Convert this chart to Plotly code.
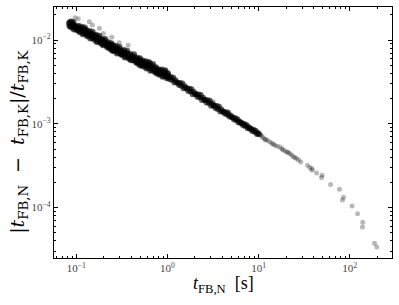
import plotly.graph_objects as go

# ---- data (t_FB,N in s, relative deviation) ----
band_t = [
    0.083, 0.084, 0.085, 0.086, 0.087, 0.088, 0.089, 0.090, 0.091, 0.092, 0.093, 0.094, 0.095, 0.097, 0.099,
    0.100, 0.102, 0.103, 0.105, 0.106, 0.108, 0.109, 0.111, 0.112, 0.114, 0.115, 0.117, 0.118, 0.120, 0.121, 0.123, 0.124, 0.126,
    0.127, 0.129, 0.131, 0.133, 0.134, 0.136, 0.138, 0.140, 0.142, 0.144, 0.146, 0.148, 0.150, 0.151, 0.153, 0.155, 0.157, 0.158,
    0.160, 0.162, 0.165, 0.167, 0.169, 0.172, 0.174, 0.176, 0.179, 0.181, 0.184, 0.186, 0.189, 0.191, 0.194, 0.196, 0.198, 0.200,
    0.202, 0.205, 0.208, 0.211, 0.213, 0.216, 0.219, 0.222, 0.225, 0.228, 0.231, 0.234, 0.237, 0.240, 0.242, 0.245, 0.248, 0.250,
    0.253, 0.257, 0.261, 0.264, 0.268, 0.272, 0.275, 0.279, 0.283, 0.287, 0.291, 0.295, 0.299, 0.302, 0.306, 0.310, 0.313, 0.316,
    0.320, 0.325, 0.329, 0.334, 0.339, 0.343, 0.348, 0.353, 0.357, 0.362, 0.367, 0.372, 0.377, 0.382, 0.387, 0.392, 0.396, 0.400,
    0.406, 0.412, 0.418, 0.424, 0.430, 0.436, 0.442, 0.448, 0.454, 0.460, 0.466, 0.472, 0.478, 0.484, 0.490, 0.495, 0.500, 0.503,
    0.508, 0.514, 0.521, 0.528, 0.535, 0.542, 0.549, 0.556, 0.563, 0.571, 0.578, 0.586, 0.593, 0.601, 0.609, 0.617, 0.624, 0.632,
    0.640, 0.649, 0.658, 0.667, 0.676, 0.685, 0.694, 0.703, 0.712, 0.722, 0.731, 0.741, 0.750, 0.760, 0.770, 0.780, 0.790, 0.800,
    0.811, 0.822, 0.833, 0.845, 0.856, 0.868, 0.880, 0.892, 0.904, 0.916, 0.928, 0.941, 0.954, 0.967, 0.980, 0.993, 1.006, 1.019,
]
band_dev = [
    0.0159, 0.01465, 0.01633, 0.01497, 0.01669, 0.01412, 0.01555, 0.01442, 0.01589, 0.01474, 0.01641, 0.01341, 0.01511, 0.01359, 0.01437,
    0.0142, 0.01306, 0.01455, 0.01323, 0.01480, 0.01246, 0.01376, 0.01270, 0.01398, 0.01293, 0.01442, 0.01175, 0.01325, 0.01199, 0.01279, 0.01342, 0.01414, 0.01206,
    0.01186, 0.01318, 0.01111, 0.01219, 0.01133, 0.01244, 0.01152, 0.01281, 0.01042, 0.01173, 0.01063, 0.01131, 0.01188, 0.01253, 0.01071, 0.01088, 0.01007, 0.01124,
    0.01128, 0.01045, 0.01159, 0.00947, 0.01066, 0.00962, 0.01024, 0.01078, 0.01129, 0.00966, 0.00979, 0.00907, 0.01008, 0.00924, 0.01028, 0.00869, 0.00958, 0.00888,
    0.00936, 0.00983, 0.01031, 0.00880, 0.00895, 0.00829, 0.00921, 0.00843, 0.00939, 0.00793, 0.00872, 0.00808, 0.00888, 0.00824, 0.00919, 0.00751, 0.00845, 0.00767,
    0.00875, 0.00737, 0.00809, 0.00751, 0.00825, 0.00764, 0.00851, 0.00693, 0.00780, 0.00705, 0.00750, 0.00788, 0.00827, 0.00708, 0.00719, 0.00666, 0.00743, 0.00683,
    0.00670, 0.00737, 0.00683, 0.00760, 0.00620, 0.00699, 0.00632, 0.00672, 0.00708, 0.00743, 0.00635, 0.00645, 0.00597, 0.00666, 0.00610, 0.00680, 0.00575, 0.00633,
    0.00635, 0.00575, 0.00611, 0.00643, 0.00675, 0.00576, 0.00586, 0.00542, 0.00604, 0.00554, 0.00617, 0.00521, 0.00574, 0.00532, 0.00586, 0.00544, 0.00607, 0.00497,
    0.00542, 0.00502, 0.00560, 0.00513, 0.00571, 0.00483, 0.00531, 0.00493, 0.00542, 0.00502, 0.00560, 0.00457, 0.00514, 0.00466, 0.00496, 0.00521, 0.00548, 0.00469,
    0.00529, 0.00431, 0.00485, 0.00440, 0.00468, 0.00492, 0.00518, 0.00442, 0.00449, 0.00416, 0.00464, 0.00424, 0.00473, 0.00400, 0.00440, 0.00408, 0.00449, 0.00416,
    0.00386, 0.00424, 0.00393, 0.00432, 0.00401, 0.00446, 0.00364, 0.00410, 0.00371, 0.00395, 0.00415, 0.00436, 0.00372, 0.00378, 0.00351, 0.00391, 0.00357, 0.00398,
]

mid_t = [
    1.03, 1.06, 1.09, 1.12, 1.16, 1.19, 1.22, 1.26, 1.30, 1.34, 1.38, 1.42, 1.46, 1.50, 1.55, 1.59,
    1.64, 1.69, 1.74, 1.79, 1.84, 1.89, 1.95, 2.01, 2.07, 2.13, 2.19, 2.25, 2.32, 2.39, 2.46, 2.53,
    2.60, 2.68, 2.76, 2.84, 2.92, 3.01, 3.10, 3.19, 3.28, 3.38, 3.48, 3.58, 3.68, 3.79, 3.90, 4.02,
    4.14, 4.26, 4.38, 4.51, 4.64, 4.78, 4.92, 5.06, 5.21, 5.36, 5.52, 5.68, 5.85, 6.02, 6.20, 6.38,
    6.57, 6.76, 6.96, 7.16, 7.37, 7.59, 7.81, 8.04, 8.28, 8.52, 8.77, 9.03, 9.29, 9.57, 9.85, 10.1,
]
mid_dev = [
    0.003640, 0.003407, 0.003623, 0.003357, 0.003551, 0.003110, 0.003313, 0.003132, 0.003100, 0.002899, 0.003079, 0.002850, 0.003031, 0.002652, 0.002809, 0.002668,
    0.002641, 0.002470, 0.002624, 0.002429, 0.002583, 0.002260, 0.002397, 0.002270, 0.002249, 0.002106, 0.002239, 0.002074, 0.002202, 0.001923, 0.002043, 0.001936,
    0.001922, 0.001797, 0.001909, 0.001766, 0.001879, 0.001640, 0.001741, 0.001651, 0.001637, 0.001532, 0.001627, 0.001506, 0.001601, 0.001399, 0.001486, 0.001407,
    0.001394, 0.001326, 0.001372, 0.001294, 0.001333, 0.001219, 0.001252, 0.001205, 0.001189, 0.001131, 0.001169, 0.001103, 0.001136, 0.001039, 0.001068, 0.001027,
    0.001014, 0.000964, 0.000996, 0.000941, 0.000969, 0.000886, 0.000910, 0.000876, 0.000864, 0.000822, 0.000849, 0.000802, 0.000826, 0.000755, 0.000776, 0.000748,
]

tail_t = [
    10.5, 10.9, 11.2, 11.7, 12.0, 12.5, 13.3, 14.0, 14.5, 15.1, 16.0, 17.1, 18.0, 18.5, 19.4, 20.5,
    21.0, 22.0, 23.0, 24.0, 25.0, 26.1, 27.5, 29.0, 34.4, 36.5, 38.4, 38.7, 43.3, 49.8, 49.1, 61.6,
    77.3, 85.5, 83.3, 106.0, 122.0, 139.0, 138.0, 187.0, 198.0,
]
tail_dev = [
    7.4e-4, 7.1e-4, 6.8e-4, 6.49e-4, 6.5e-4, 6.3e-4, 6.08e-4, 5.85e-4, 5.7e-4, 5.55e-4, 5.4e-4, 5.3e-4, 5.05e-4, 4.9e-4, 4.74e-4, 4.6e-4,
    4.55e-4, 4.41e-4, 4.25e-4, 4.05e-4, 3.95e-4, 3.85e-4, 3.7e-4, 3.5e-4, 3.2e-4, 3.0e-4, 2.92e-4, 2.79e-4, 2.59e-4, 2.43e-4, 2.28e-4, 1.88e-4,
    1.65e-4, 1.33e-4, 1.23e-4, 1.04e-4, 8.4e-5, 6.65e-5, 5.85e-5, 3.73e-5, 3.37e-5,
]

halo_t = [0.0968, 0.105, 0.139, 0.150, 0.179, 0.198, 0.245, 0.296, 0.37, 0.961, 0.996, 3.18, 4.64]
halo_dev = [0.0185, 0.0180, 0.0166, 0.0151, 0.0138, 0.0120, 0.0108, 0.0093, 0.0087, 0.00437, 0.00418, 0.00183, 0.00139]

x_tickvals = [0.1, 1, 10, 100]
x_ticktext = ["10<sup>−1</sup>", "10<sup>0</sup>", "10<sup>1</sup>", "10<sup>2</sup>"]
y_tickvals = [1e-4, 1e-3, 1e-2]
y_ticktext = ["10<sup>−4</sup>", "10<sup>−3</sup>", "10<sup>−2</sup>"]
x_minor = [0.06, 0.07, 0.08, 0.09, 0.2, 0.3, 0.4, 0.5, 0.6, 0.7, 0.8, 0.9,
           2, 3, 4, 5, 6, 7, 8, 9, 20, 30, 40, 50, 60, 70, 80, 90, 200]
y_minor = [3e-5, 4e-5, 5e-5, 6e-5, 7e-5, 8e-5, 9e-5, 2e-4, 3e-4, 4e-4, 5e-4, 6e-4, 7e-4, 8e-4, 9e-4,
           2e-3, 3e-3, 4e-3, 5e-3, 6e-3, 7e-3, 8e-3, 9e-3, 2e-2]

fig = go.Figure()
fig.add_trace(go.Scatter(
    x=band_t + mid_t, y=band_dev + mid_dev, mode="markers",
    marker=dict(size=6, color="black", opacity=0.62, line=dict(width=0)),
    showlegend=False, hoverinfo="skip",
))
fig.add_trace(go.Scatter(
    x=tail_t + halo_t, y=tail_dev + halo_dev, mode="markers",
    marker=dict(size=5, color="black", opacity=0.28, line=dict(width=0)),
    showlegend=False, hoverinfo="skip",
))

FONT = "Liberation Serif"
axis_common = dict(
    type="log", showgrid=False, zeroline=False, automargin=False,
    showline=True, linecolor="black", linewidth=1.2, mirror="allticks",
    ticks="inside", ticklen=4, tickwidth=1, tickcolor="black",
    tickfont=dict(family=FONT, size=11, color="#444"),
)

fig.update_layout(
    width=399, height=305,
    margin=dict(l=54, r=7, t=7, b=47),
    paper_bgcolor="white", plot_bgcolor="white",
    font=dict(family=FONT, color="black"),
    xaxis=dict(**axis_common, range=[-1.245, 2.464],
               tickmode="array", tickvals=x_tickvals, ticktext=x_ticktext,
               minor=dict(tickmode="array", tickvals=x_minor, ticks="inside", ticklen=2,
                          tickwidth=0.8, tickcolor="black", showgrid=False)),
    yaxis=dict(**axis_common, range=[-4.603, -1.605],
               tickmode="array", tickvals=y_tickvals, ticktext=y_ticktext,
               minor=dict(tickmode="array", tickvals=y_minor, ticks="inside", ticklen=2,
                          tickwidth=0.8, tickcolor="black", showgrid=False)),
    annotations=[
        dict(text="<i>t</i><sub>FB,N</sub>  [s]", xref="paper", yref="paper",
             x=0.5, y=-0.104, xanchor="center", yanchor="middle", showarrow=False,
             font=dict(family=FONT, size=18, color="black")),
        dict(text="|<i>t</i><sub>FB,N</sub>  −  <i>t</i><sub>FB,K</sub>|/<i>t</i><sub>FB,K</sub>",
             xref="paper", yref="paper", x=-0.107, y=0.462, xanchor="center", yanchor="middle",
             textangle=-90, showarrow=False,
             font=dict(family="DejaVu Serif", size=19, color="black")),
    ],
)

fig.write_html("out.html", config={"displayModeBar": False},
               post_script="document.body.style.margin='0';")
